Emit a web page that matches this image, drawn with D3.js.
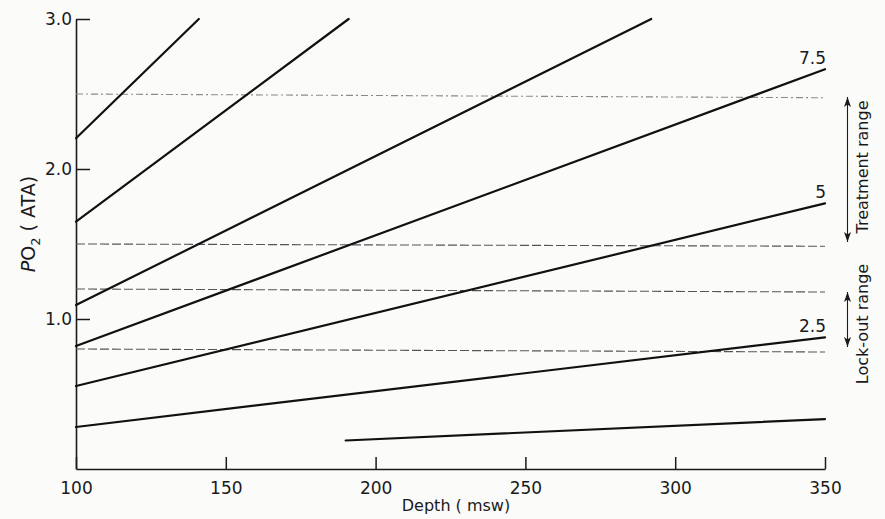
<!DOCTYPE html>
<html>
<head>
<meta charset="utf-8">
<script src="https://cdn.jsdelivr.net/npm/d3@7"></script>
<style>
  html, body { margin: 0; padding: 0; background: #fbfbfa; }
  svg { display: block; }
  text { font-family: "DejaVu Sans", "Open Sans", sans-serif; fill: #1a1a1a; }
</style>
</head>
<body>
<svg id="chart" width="885" height="519"></svg>
<script>
// Oxygen partial pressure versus depth for several oxygen fractions (%)
const mixLabels  = ["", "2.5", "5", "7.5", "", "", ""];
const startDepth = [190, 100, 100, 100, 100, 100, 100];
const startPO2   = [0.19, 0.28, 0.553, 0.82, 1.093, 1.649, 2.205];
const endDepth   = [350, 350, 350, 350, 292, 191, 141];
const endPO2     = [0.333, 0.878, 1.771, 2.665, 3.0, 3.0, 3.0];

// Dashed reference levels (ATA) at the left and right ends
const guideStart = [2.5, 1.5, 1.2, 0.8];
const guideEnd   = [2.475, 1.485, 1.18, 0.78];

// Bracketed ranges on the right
const rangeNames = ["Treatment range", "Lock-out range"];
const rangeLow   = [1.5, 0.8];
const rangeHigh  = [2.5, 1.2];

const depthTicks = [100, 150, 200, 250, 300, 350];
const po2Ticks   = [1.0, 2.0, 3.0];

const svg = d3.select("#chart");
const x = d3.scaleLinear().domain([100, 350]).range([76, 825]);
const y = d3.scaleLinear().domain([0, 3]).range([469, 19]);

// Axes with inward ticks
const xAxis = d3.axisBottom(x).tickValues(depthTicks).tickFormat(d3.format("d"))
  .tickSizeInner(-12).tickSizeOuter(0).tickPadding(13);
const yAxis = d3.axisLeft(y).tickValues(po2Ticks).tickFormat(d3.format(".1f"))
  .tickSizeInner(-14).tickSizeOuter(0).tickPadding(4);

const gx = svg.append("g").attr("transform", "translate(0,469)").call(xAxis);
const gy = svg.append("g").attr("transform", "translate(76,0)").call(yAxis);
[gx, gy].forEach(g => {
  g.select(".domain").attr("stroke", "#1a1a1a").attr("stroke-width", 1.6);
  g.selectAll(".tick line").attr("stroke", "#1a1a1a").attr("stroke-width", 1.5);
  g.selectAll(".tick text").attr("font-size", 17).attr("fill", "#1a1a1a")
    .style("font-family", "'DejaVu Sans', 'Open Sans', sans-serif");
});

// Dashed reference levels
svg.append("g").selectAll("line").data(guideStart).join("line")
  .attr("x1", x(100)).attr("x2", x(350))
  .attr("y1", d => y(d))
  .attr("y2", (d, i) => y(guideEnd[i]))
  .attr("stroke", (d, i) => i === 0 ? "#8a8a8a" : "#555")
  .attr("stroke-width", 1.1)
  .attr("stroke-dasharray", (d, i) => i === 0 ? "7,3,2,3" : "9,3");

// PO2 lines
const lines = startDepth.map((d, i) => ({
  x1: d, y1: startPO2[i], x2: endDepth[i], y2: endPO2[i], label: mixLabels[i]
}));
svg.append("g").selectAll("line").data(lines).join("line")
  .attr("x1", d => x(d.x1)).attr("y1", d => y(d.y1))
  .attr("x2", d => x(d.x2)).attr("y2", d => y(d.y2))
  .attr("stroke", "#111").attr("stroke-width", 2.2).attr("stroke-linecap", "round");

svg.append("g").selectAll("text").data(lines.filter(d => d.label)).join("text")
  .attr("x", d => x(d.x2) + 1).attr("y", d => y(d.y2) - 5)
  .attr("text-anchor", "end").attr("font-size", 17)
  .text(d => d.label);

// Range brackets with double-headed arrows
const defs = svg.append("defs");
defs.append("marker").attr("id", "head")
  .attr("viewBox", "0 0 10 10").attr("refX", 10).attr("refY", 5)
  .attr("markerWidth", 10).attr("markerHeight", 10).attr("markerUnits", "userSpaceOnUse")
  .attr("orient", "auto-start-reverse")
  .append("path").attr("d", "M0,1.5 L10,5 L0,8.5 L2.5,5 Z").attr("fill", "#1a1a1a");

const ranges = rangeNames.map((n, i) => ({ name: n, lo: rangeLow[i], hi: rangeHigh[i] }));
const arrowX = 847.5;
svg.append("g").selectAll("line").data(ranges).join("line")
  .attr("x1", arrowX).attr("x2", arrowX)
  .attr("y1", d => y(d.hi) + 3).attr("y2", d => y(d.lo) - 2)
  .attr("stroke", "#1a1a1a").attr("stroke-width", 1.1)
  .attr("marker-start", "url(#head)").attr("marker-end", "url(#head)");

svg.append("g").selectAll("text").data(ranges).join("text")
  .attr("transform", d => `translate(868,${(y(d.hi) + y(d.lo)) / 2 + (d.lo < 1 ? 5 : -2)}) rotate(-90)`)
  .attr("text-anchor", "middle").attr("font-size", 16)
  .text(d => d.name);

// Axis titles
svg.append("text").attr("x", 456).attr("y", 511)
  .attr("text-anchor", "middle").attr("font-size", 16)
  .text("Depth ( msw)");

const yt = svg.append("text")
  .attr("transform", "translate(35,224) rotate(-90)")
  .attr("text-anchor", "middle").attr("font-size", 19);
yt.append("tspan").attr("font-style", "italic").text("P");
yt.append("tspan").text("O");
yt.append("tspan").attr("font-size", 13).attr("dy", 5).text("2");
yt.append("tspan").attr("dy", -5).text(" ( ATA)");
</script>
</body>
</html>
